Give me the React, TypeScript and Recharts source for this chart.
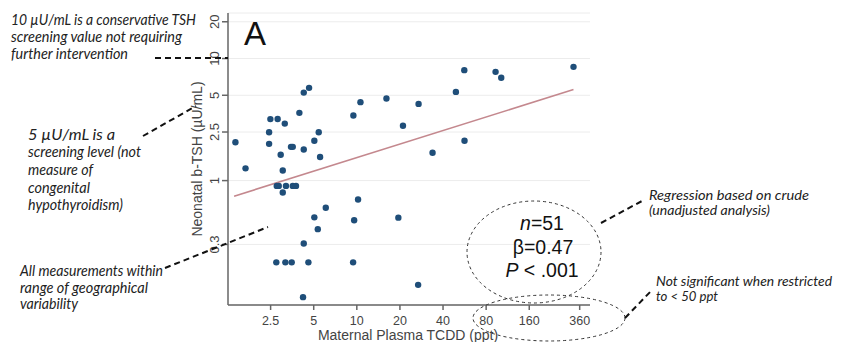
import React from 'react';
import { ScatterChart, Scatter, XAxis, YAxis, CartesianGrid, ReferenceLine } from 'recharts';

// Maternal plasma TCDD (ppt)
const tcdd = [
  1.42, 1.67, 2.49, 2.8, 2.44, 2.44, 3.14, 2.94, 3.04, 2.76,
  2.85, 3.04, 3.2, 3.57, 3.76, 3.47, 3.57, 3.97, 4.26, 4.64,
  4.26, 5.05, 5.42, 5.54, 6.07, 5.05, 5.34, 4.26, 2.74, 3.17,
  3.51, 4.59, 4.21, 9.46, 10.6, 10.2, 9.58, 9.42, 16.1, 21.0,
  19.5, 27.0, 26.8, 33.8, 49.2, 56.3, 56.5, 93.1, 102, 326,
];
// Neonatal b-TSH (µU/mL)
const tsh = [
  2.06, 1.26, 3.19, 3.2, 2.49, 2.0, 2.93, 1.63, 1.21, 0.905,
  0.905, 0.8, 0.905, 0.905, 0.905, 1.89, 1.89, 3.59, 5.26, 5.75,
  1.8, 2.12, 2.49, 1.56, 0.6, 0.5, 0.4, 0.305, 0.214, 0.214,
  0.214, 0.214, 0.111, 3.41, 4.39, 0.7, 0.473, 0.214, 4.7, 2.81,
  0.497, 4.25, 0.14, 1.69, 5.33, 8.03, 2.12, 7.78, 6.95, 8.55,
];
const regressionX = [1.39, 326];
const regressionY = [0.745, 5.57];
const xTicks = [2.5, 5, 10, 20, 40, 80, 160, 360];
const yTicks = [0.3, 1, 2.5, 5, 10, 20];
const xDomain = [1.26, 425];
const yDomain = [0.0957, 23.6];

const points = tcdd.map((x, i) => ({ x, y: tsh[i] }));

const AXIS_FONT = "'Liberation Sans', Arial, sans-serif";
const NOTE_FONT = "Lato, 'Open Sans', sans-serif";

const YTick = (props: any) => {
  const { x, y, payload } = props;
  const cx = x - 5;
  return (
    <text x={cx} y={y} transform={`rotate(-90 ${cx} ${y})`} textAnchor="middle" dominantBaseline="central"
      fontSize={13} fill="#444" fontFamily={AXIS_FONT}>{payload.value}</text>
  );
};

const XTick = (props: any) => {
  const { x, y, payload } = props;
  return (
    <text x={x} y={y + 9} textAnchor="middle" dominantBaseline="central"
      fontSize={12.5} fill="#444" fontFamily={AXIS_FONT}>{payload.value}</text>
  );
};

const YLabel = (props: any) => {
  const vb = props.viewBox;
  const cx = vb.x + vb.width - 31;
  const cy = vb.y + vb.height / 2;
  return (
    <text x={cx} y={cy} transform={`rotate(-90 ${cx} ${cy})`} textAnchor="middle" dominantBaseline="central"
      fontSize={14} fill="#444" fontFamily={AXIS_FONT}>Neonatal b-TSH (µU/mL)</text>
  );
};

const XLabel = (props: any) => {
  const vb = props.viewBox;
  const cx = vb.x + vb.width / 2 - 1;
  const cy = vb.y + 29.5;
  return (
    <text x={cx} y={cy} textAnchor="middle" dominantBaseline="central"
      fontSize={14} fill="#444" fontFamily={AXIS_FONT}>Maternal Plasma TCDD (ppt)</text>
  );
};

const Dot = (props: any) => <circle cx={props.cx} cy={props.cy} r={3.2} fill="#1f4e79" />;

const Note = ({ x, y, lines, widths, step, size = 15 }: { x: number; y: number; lines: string[]; widths: number[]; step: number; size?: number }) => (
  <g>
    {lines.map((l, i) => (
      <text key={i} x={x} y={y + i * step} textLength={widths[i]} lengthAdjust="spacingAndGlyphs"
        fontFamily={NOTE_FONT} fontStyle="italic" fontSize={size} fill="#222">{l}</text>
    ))}
  </g>
);

export default function App() {
  return (
    <div style={{ position: 'absolute', left: 0, top: 0, width: 841, height: 342, background: '#fff' }}>
      <div style={{ position: 'absolute', left: 0, top: 0 }}>
        <ScatterChart width={841} height={342} margin={{ top: 13, right: 251, bottom: 0, left: 0 }}>
          <CartesianGrid vertical={false} stroke="#ececec" strokeWidth={1} />
          <XAxis type="number" dataKey="x" scale="log" domain={xDomain} allowDataOverflow ticks={xTicks}
            interval={0} height={37} stroke="#666" strokeWidth={1.5} tickSize={5} tick={<XTick />}
            label={<XLabel />} />
          <YAxis type="number" dataKey="y" scale="log" domain={yDomain} allowDataOverflow ticks={yTicks}
            interval={0} width={228} stroke="#666" strokeWidth={1.5} tickSize={6} tick={<YTick />}
            label={<YLabel />} />
          <ReferenceLine segment={[{ x: regressionX[0], y: regressionY[0] }, { x: regressionX[1], y: regressionY[1] }]}
            stroke="#c4888e" strokeWidth={1.6} ifOverflow="visible" />
          <Scatter data={points} shape={<Dot />} isAnimationActive={false} />
        </ScatterChart>
      </div>
      <svg width={841} height={342} style={{ position: 'absolute', left: 0, top: 0, pointerEvents: 'none' }}>
        <text x={244} y={45} fontSize={33} fontFamily={AXIS_FONT} fill="#111">A</text>

        <Note x={11} y={25} step={17} widths={[185, 171, 117]}
          lines={['10 µU/mL is a conservative TSH', 'screening value not requiring', 'further intervention']} />
        <line x1={155} y1={58} x2={228} y2={58} stroke="#111" strokeWidth={2} strokeDasharray="6 4" />

        <Note x={28} y={139.5} step={17.7} widths={[87, 113, 65, 62, 95]}
          lines={['5 µU/mL is a', 'screening level (not', 'measure of', 'congenital', 'hypothyroidism)']} />
        <line x1={143} y1={136} x2={196} y2={106} stroke="#111" strokeWidth={2} strokeDasharray="6 4" />

        <Note x={20} y={276} step={16.7} widths={[143, 128, 58]}
          lines={['All measurements within', 'range of geographical', 'variability']} />
        <line x1={165} y1={268} x2={268} y2={227} stroke="#111" strokeWidth={2} strokeDasharray="6 4" />

        <ellipse cx={534} cy={252} rx={67} ry={51} fill="none" stroke="#333" strokeWidth={1} strokeDasharray="3 3" />
        <text fontFamily={AXIS_FONT} fontSize={19.5} fill="#111" textAnchor="middle">
          <tspan x={542} y={230}><tspan fontStyle="italic">n</tspan>=51</tspan>
          <tspan x={543} y={253.5}>β=0.47</tspan>
          <tspan x={542} y={277}><tspan fontStyle="italic">P</tspan> &lt; .001</tspan>
        </text>
        <ellipse cx={549} cy={318} rx={76} ry={23} fill="none" stroke="#333" strokeWidth={1} strokeDasharray="3 3" />

        <Note x={649} y={199.5} step={15.5} size={13.5} widths={[160, 121]}
          lines={['Regression based on crude', '(unadjusted analysis)']} />
        <line x1={601} y1={223} x2={642} y2={201} stroke="#111" strokeWidth={2} strokeDasharray="6 4" />

        <Note x={656} y={286} step={14.5} size={13.5} widths={[176, 62]}
          lines={['Not significant when restricted', 'to < 50 ppt']} />
        <line x1={625} y1={318} x2={652} y2={290} stroke="#111" strokeWidth={2} strokeDasharray="6 4" />
      </svg>
    </div>
  );
}
